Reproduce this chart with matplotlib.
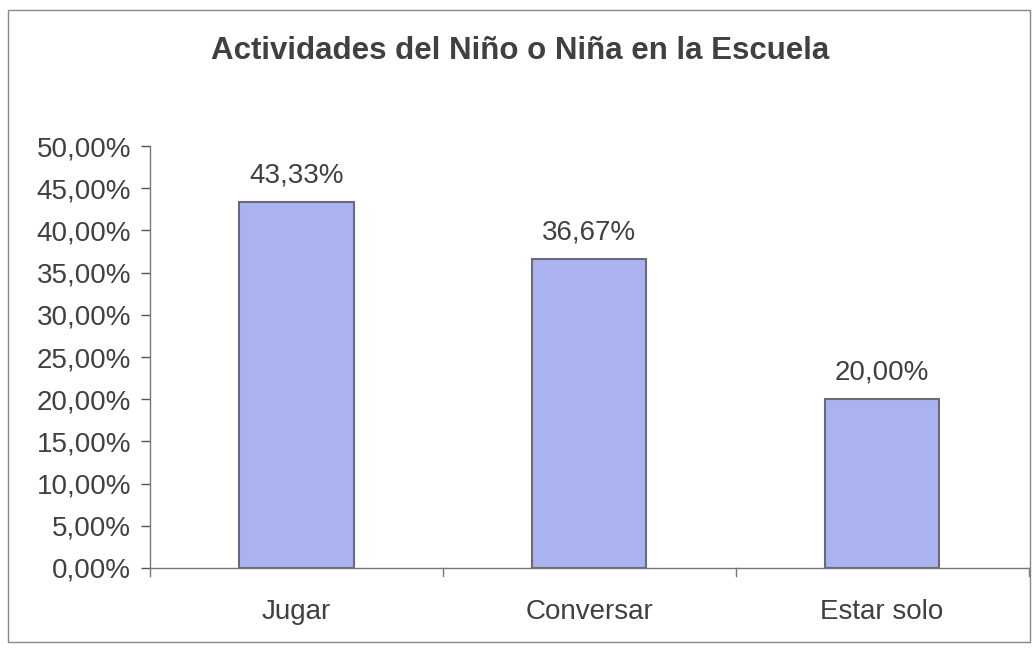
import matplotlib
matplotlib.use("Agg")
from matplotlib import pyplot as plt
from matplotlib.patches import Rectangle
from matplotlib.ticker import FuncFormatter

categories = ["Jugar", "Conversar", "Estar solo"]
values = [43.33, 36.67, 20.00]
y_ticks = [0, 5, 10, 15, 20, 25, 30, 35, 40, 45, 50]

plt.rcParams['font.family'] = ['Liberation Sans', 'DejaVu Sans']
text_color = '#404040'

fig = plt.figure(figsize=(10.36, 6.48), dpi=100)
ax = fig.add_axes([0.1448, 0.1235, 0.848, 0.651])

x = list(range(len(categories)))
ax.bar(x, values, width=0.39, color='#aab3ef', edgecolor='#6a6a78', linewidth=1.5)

for xi, v in zip(x, values):
    ax.text(xi, v + 1.6, f"{v:.2f}%".replace('.', ','), ha='center', va='bottom',
            fontsize=20, color=text_color)

ax.set_xlim(-0.5, len(categories) - 0.5)
ax.set_ylim(0, 50)
ax.set_yticks(y_ticks)
ax.yaxis.set_major_formatter(FuncFormatter(lambda v, p: f"{v:.2f}%".replace('.', ',')))
ax.set_xticks(x)
ax.set_xticklabels(categories)
ax.tick_params(axis='x', length=0, pad=22, labelsize=20, labelcolor=text_color)
ax.tick_params(axis='y', length=6.5, width=1, color='#555555', labelsize=20,
               labelcolor=text_color, pad=7)
# small marks between categories
for b in [-0.5, 0.5, 1.5, 2.5]:
    ax.plot([b, b], [0, -0.9], color='#777777', lw=1, clip_on=False)

for s in ['top', 'right']:
    ax.spines[s].set_visible(False)
for s in ['left', 'bottom']:
    ax.spines[s].set_color('#777777')
    ax.spines[s].set_linewidth(1)

fig.text(0.502, 0.922, "Actividades del Niño o Niña en la Escuela", ha='center', va='center',
         fontsize=22.5, fontweight='bold', color=text_color)

fig.add_artist(Rectangle((8 / 1036, 6 / 648), 1022 / 1036, 632 / 648, transform=fig.transFigure,
                         fill=False, edgecolor='#888888', linewidth=1))

fig.savefig('out.png', dpi=100)
